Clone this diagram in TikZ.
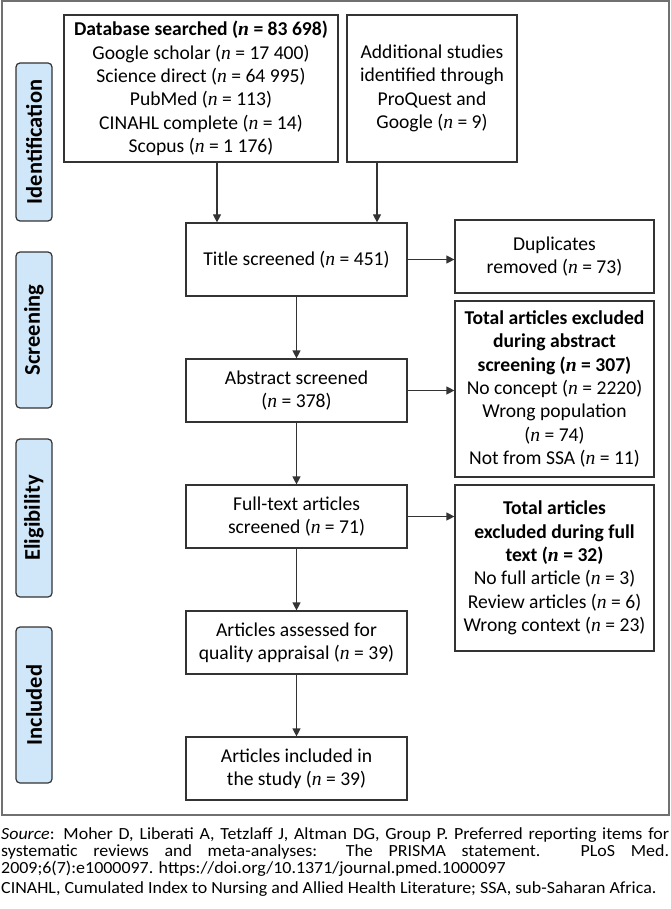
\documentclass[tikz,border=0pt]{standalone}
\usepackage{fontspec}
\setmainfont{Carlito}
\newfontfamily\timesf{Liberation Serif}
\usetikzlibrary{arrows.meta}
\newcommand\nv{{\timesf\itshape n}}
\definecolor{boxcol}{HTML}{333333}
\definecolor{phasefill}{HTML}{CFE7F8}
\definecolor{framecol}{HTML}{707070}
\begin{document}
\begin{tikzpicture}[x=1pt,y=-1pt,
  box/.style={draw=boxcol, line width=1.2pt, align=center, inner sep=0pt,
    font=\fontsize{19.6}{23.4}\selectfont, text=black},
  phase/.style={draw=boxcol, line width=1.2pt, fill=phasefill, rounded corners=4pt,
    rotate=90, minimum height=36pt, inner sep=0pt,
    font=\bfseries\fontsize{22.5}{24}\selectfont},
  arr/.style={draw=boxcol, line width=1.2pt, -{Triangle[length=8pt,width=8pt]}},
  capt/.style={inner sep=0pt, font=\fontsize{17}{17}\selectfont}]
\useasboundingbox (0,0) rectangle (670,909);
\draw[framecol, line width=1.5pt] (2,1) rectangle (669,815);

% phase labels
\node[phase, minimum width=158pt] (pid) at (34,142) {Identification};
\node[phase, minimum width=156pt] (psc) at (34,330) {Screening};
\node[phase, minimum width=158pt] (pel) at (34,518) {Eligibility};
\node[phase, minimum width=156pt] (pin) at (34,705) {Included};

% boxes
\node[box, minimum width=274pt, minimum height=147pt] (db) at (201,88.5)
  {\textbf{Database searched (\nv{} = 83 698)}\\Google scholar (\nv{} = 17 400)\\Science direct (\nv{} = 64 995)\\PubMed (\nv{} = 113)\\CINAHL complete (\nv{} = 14)\\Scopus (\nv{} = 1 176)};
\node[box, minimum width=170pt, minimum height=147pt] (add) at (432,88.5)
  {Additional studies\\identified through\\ProQuest and\\Google (\nv{} = 9)};
\node[box, minimum width=221pt, minimum height=73pt] (title) at (296.5,259.5)
  {Title screened (\nv{} = 451)};
\node[box, minimum width=199pt, minimum height=73pt] (dup) at (554.5,256.5)
  {Duplicates\\removed (\nv{} = 73)};
\node[box, minimum width=221pt, minimum height=63pt] (abs) at (296.5,390.5)
  {Abstract screened\\(\nv{} = 378)};
\node[box, minimum width=199pt, minimum height=176pt] (absx) at (554.5,389)
  {\textbf{Total articles excluded}\\\textbf{during abstract}\\\textbf{screening (\nv{} = 307)}\\No concept (\nv{} = 2220)\\Wrong population\\(\nv{} = 74)\\Not from SSA (\nv{} = 11)};
\node[box, minimum width=221pt, minimum height=63pt] (full) at (296.5,516.5)
  {Full-text articles\\screened (\nv{} = 71)};
\node[box, minimum width=199pt, minimum height=166pt] (fullx) at (554.5,568)
  {\textbf{Total articles}\\\textbf{excluded during full}\\\textbf{text (\nv{} = 32)}\\No full article (\nv{} = 3)\\Review articles (\nv{} = 6)\\Wrong context (\nv{} = 23)};
\node[box, minimum width=221pt, minimum height=63pt] (qual) at (296.5,642.5)
  {Articles assessed for\\quality appraisal (\nv{} = 39)};
\node[box, minimum width=221pt, minimum height=63pt] (incl) at (296.5,768.5)
  {Articles included in\\the study (\nv{} = 39)};

% connectors
\coordinate (dbx) at (217,162);
\coordinate (addx) at (377,162);
\draw[arr] (dbx) -- (dbx |- title.north);
\draw[arr] (addx) -- (addx |- title.north);
\draw[arr] (title.east) -- (title.east -| dup.west);
\draw[arr] (title) -- (abs);
\draw[arr] (abs.east) -- (abs.east -| absx.west);
\draw[arr] (abs) -- (full);
\draw[arr] (full.east) -- (full.east -| fullx.west);
\draw[arr] (full) -- (qual);
\draw[arr] (qual) -- (incl);

% caption
\node[capt, anchor=north west] (src) at (1,827)
  {\scalebox{1.055}[1]{\parbox[t]{633pt}{\hyphenpenalty=10000 \textit{Source}: Moher D, Liberati A, Tetzlaff J, Altman DG, Group P. Preferred reporting items for\linebreak systematic reviews and meta-analyses: The PRISMA statement. PLoS Med.\linebreak 2009;6(7):e1000097. https://doi.org/10.1371/journal.pmed.1000097}}};
\node[capt, anchor=base west] (abbr) at (1,893)
  {\scalebox{1.055}[1]{CINAHL, Cumulated Index to Nursing and Allied Health Literature; SSA, sub-Saharan Africa.}};
\end{tikzpicture}
\end{document}
